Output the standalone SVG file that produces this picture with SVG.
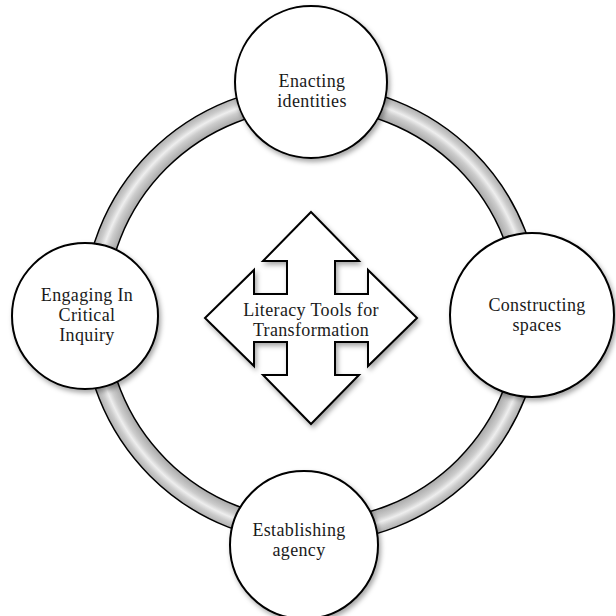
<svg xmlns="http://www.w3.org/2000/svg" width="616" height="616" viewBox="0 0 616 616">
  <defs>
    <radialGradient id="tube" gradientUnits="userSpaceOnUse" cx="312" cy="314" r="229">
      <stop offset="0.899" stop-color="#a8a8a8"/>
      <stop offset="0.935" stop-color="#cccccc"/>
      <stop offset="0.955" stop-color="#eeeeee"/>
      <stop offset="0.975" stop-color="#cccccc"/>
      <stop offset="1" stop-color="#b0b0b0"/>
    </radialGradient>
    <filter id="shadow" x="-20%" y="-20%" width="140%" height="140%">
      <feDropShadow dx="2" dy="3" stdDeviation="2.5" flood-color="#000" flood-opacity="0.35"/>
    </filter>
  </defs>
  <style>
    .node { fill: #fff; stroke: #000; stroke-width: 2; filter: url(#shadow); }
    .ring { fill: url(#tube); fill-rule: evenodd; stroke: #000; stroke-width: 1.5; }
    .lbl { font-family: "Liberation Serif", "Times New Roman", serif; font-size: 18px; letter-spacing: 0.35px; fill: #1a1a1a; text-anchor: middle; }
  </style>
  <rect width="616" height="616" fill="#fff"/>
  <g id="connectors">
    <path class="ring" d="M 541 314 A 229 229 0 1 0 83 314 A 229 229 0 1 0 541 314 Z M 518 314 A 206 206 0 1 0 106 314 A 206 206 0 1 0 518 314 Z"/>
  </g>
  <g id="center-arrows">
    <path class="node" d="M 311 212 L 359 261 L 335 261 L 335 294 L 368 294 L 368 270 L 417 318 L 368 366 L 368 342 L 335 342 L 335 375 L 359 375 L 311 424 L 263 375 L 287 375 L 287 342 L 254 342 L 254 366 L 205 318 L 254 270 L 254 294 L 287 294 L 287 261 L 263 261 Z"/>
    <text class="lbl" x="311" y="316">Literacy Tools for</text>
    <text class="lbl" x="311" y="336">Transformation</text>
  </g>
  <g id="node-enacting">
    <circle class="node" cx="311" cy="82" r="76"/>
    <text class="lbl" x="312" y="87">Enacting</text>
    <text class="lbl" x="312" y="107">identities</text>
  </g>
  <g id="node-constructing">
    <circle class="node" cx="532" cy="315" r="82"/>
    <text class="lbl" x="537" y="311">Constructing</text>
    <text class="lbl" x="537" y="331">spaces</text>
  </g>
  <g id="node-establishing">
    <circle class="node" cx="304" cy="545" r="74"/>
    <text class="lbl" x="299" y="536">Establishing</text>
    <text class="lbl" x="299" y="556">agency</text>
  </g>
  <g id="node-engaging">
    <circle class="node" cx="85" cy="316" r="73"/>
    <text class="lbl" x="87" y="301">Engaging In</text>
    <text class="lbl" x="87" y="321">Critical</text>
    <text class="lbl" x="87" y="341">Inquiry</text>
  </g>
</svg>
